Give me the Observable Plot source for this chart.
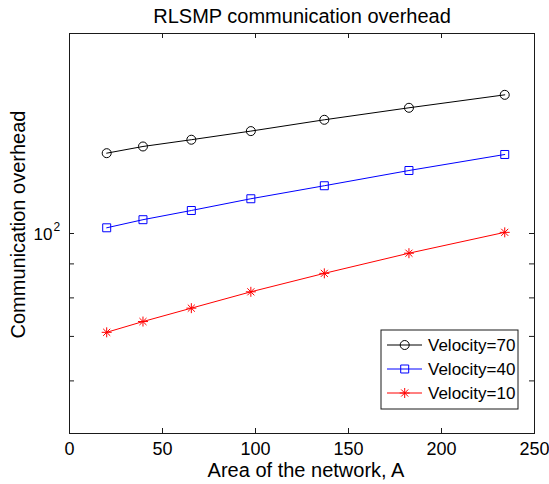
<!DOCTYPE html>
<html><head><meta charset="utf-8">
<script src="https://cdn.jsdelivr.net/npm/d3@7"></script>
<script src="https://cdn.jsdelivr.net/npm/@observablehq/plot@0.6"></script>
<style>body{margin:0;background:#fff}#chart{width:549px;height:484px}</style>
</head><body><div id="chart"></div>
<script>
// Data
const areas = [20, 39.5, 65.5, 97.5, 137, 182.5, 234];
const v70 = [132.1, 135.2, 138.4, 142.6, 148.3, 154.6, 161.7];
const v40 = [102.0, 104.9, 108.3, 112.8, 118.0, 124.4, 131.5];
const v10 = [71.0, 73.7, 77.2, 81.7, 87.1, 93.4, 100.4];
const seriesNames = ["Velocity=70", "Velocity=40", "Velocity=10"];
const seriesValues = [v70, v40, v10];
const seriesColors = ["#000000", "#0000ff", "#ff0000"];
const seriesSymbols = ["circle", "square", "star8"];
const xTicks = [0, 50, 100, 150, 200, 250];
const xInnerTicks = [50, 100, 150, 200];
const yTicks = [60, 70, 80, 90, 100];
const yLabelTick = [100];
const titleText = "RLSMP communication overhead";
const xLabel = "Area of the network, A";
const yLabel = "Communication overhead";

const W = 549, H = 484;
const mT = 33, mB = 51, mL = 69, mR = 15;
const pw = W - mL - mR, ph = H - mT - mB;
const font = "'Liberation Sans', Arial, Helvetica, sans-serif";

// MATLAB-like '*' marker: plus and cross combined
const star8 = {
  draw(context, size) {
    const r = Math.sqrt(size / Math.PI);
    const d = r * Math.SQRT1_2;
    context.moveTo(-r, 0); context.lineTo(r, 0);
    context.moveTo(0, -r); context.lineTo(0, r);
    context.moveTo(-d, -d); context.lineTo(d, d);
    context.moveTo(-d, d); context.lineTo(d, -d);
  }
};
const symMap = {circle: d3.symbolCircle, square: d3.symbolSquare, star8};
const symR = {circle: 4.5, square: 4.5, star8: 5};

const rows = [];
seriesNames.forEach((s, i) => areas.forEach((a, j) => rows.push({series: s, area: a, value: seriesValues[i][j]})));

const marks = [
  Plot.frame({stroke: "#1a1a1a", strokeWidth: 1}),
  Plot.tickX(xInnerTicks, {x: d => d, insetTop: ph - 5, stroke: "#1a1a1a"}),
  Plot.tickX(xInnerTicks, {x: d => d, insetBottom: ph - 5, stroke: "#1a1a1a"}),
  Plot.tickY(yTicks, {y: d => d, insetRight: pw - 5, stroke: "#1a1a1a"}),
  Plot.tickY(yTicks, {y: d => d, insetLeft: pw - 5, stroke: "#1a1a1a"}),
  Plot.axisX({ticks: xTicks, tickSize: 0, tickPadding: 9, fontSize: 18, label: null, tickFormat: d => String(d)}),
  Plot.axisY({ticks: [], tickSize: 0, label: null}),
  Plot.text(yLabelTick, {y: d => d, frameAnchor: "left", text: () => "10", textAnchor: "end", dx: -17, dy: 1.5, fontSize: 17}),
  Plot.text(yLabelTick, {y: d => d, frameAnchor: "left", text: () => "2", textAnchor: "start", dx: -16, dy: -6, fontSize: 12}),
  Plot.text([titleText], {frameAnchor: "top", dy: -11, lineAnchor: "bottom", textAnchor: "middle", fontSize: 20}),
  Plot.text([xLabel], {frameAnchor: "bottom", dx: 4, dy: 43, lineAnchor: "bottom", textAnchor: "middle", fontSize: 20}),
  Plot.text([yLabel], {frameAnchor: "left", dx: -51, dy: -9, rotate: -90, lineAnchor: "middle", textAnchor: "middle", fontSize: 20})
];
seriesNames.forEach((s, i) => {
  const d = rows.filter(r => r.series === s);
  const sym = seriesSymbols[i];
  marks.push(Plot.line(d, {x: "area", y: "value", stroke: seriesColors[i], strokeWidth: 1}));
  marks.push(Plot.dot(d, {x: "area", y: "value", stroke: seriesColors[i], fill: "none", strokeWidth: 1,
    symbol: symMap[sym], r: symR[sym]}));
});

const chart = Plot.plot({
  width: W, height: H,
  marginTop: mT, marginBottom: mB, marginLeft: mL, marginRight: mR,
  style: {fontFamily: font, background: "#fff", color: "#000"},
  x: {domain: [0, 250]},
  y: {type: "log", domain: [50, 200]},
  marks
});
document.getElementById("chart").appendChild(chart);

// Legend box (MATLAB style, inside plot)
const svg = d3.select(chart);
const lg = svg.append("g").attr("font-family", font).attr("font-size", 17).attr("text-anchor", "start");
const bx = 381, by = 330, bw = 137, bh = 79, rowH = 24;
lg.append("rect").attr("x", bx).attr("y", by).attr("width", bw).attr("height", bh)
  .attr("fill", "#fff").attr("stroke", "#1a1a1a");
seriesNames.forEach((s, i) => {
  const cy = by + 15 + i * rowH;
  const sym = seriesSymbols[i];
  lg.append("line").attr("x1", bx + 6).attr("x2", bx + 41).attr("y1", cy).attr("y2", cy)
    .attr("stroke", seriesColors[i]).attr("stroke-width", 1);
  const r = symR[sym];
  lg.append("path").attr("d", d3.symbol(symMap[sym], Math.PI * r * r)())
    .attr("transform", `translate(${bx + 23.7},${cy})`)
    .attr("fill", "none").attr("stroke", seriesColors[i]).attr("stroke-width", 1);
  lg.append("text").attr("x", bx + 47).attr("y", cy).attr("dy", "0.35em").attr("text-anchor", "start").text(s);
});
</script>
</body></html>
